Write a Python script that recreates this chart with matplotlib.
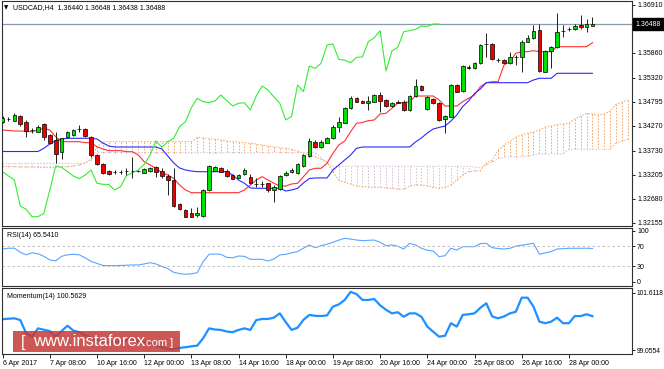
import matplotlib
matplotlib.use("Agg")
import matplotlib.pyplot as plt
import matplotlib.transforms as mtransforms
from matplotlib.patches import Rectangle
import numpy as np

plt.rcParams['font.family'] = ['Liberation Sans', 'DejaVu Sans']

# USDCAD H4 candles, 6 Apr 2017 00:00 .. 28 Apr 2017 16:00
opens = [1.34353, 1.34412, 1.34382, 1.34484, 1.34360, 1.34175, 1.34142, 1.34303, 1.34070, 1.33961,
         1.33706, 1.34020, 1.34070, 1.34194, 1.34194, 1.34033, 1.33634, 1.33438, 1.33292, 1.33253,
         1.33257, 1.33281, 1.33285, 1.33285, 1.33248, 1.33292, 1.33372, 1.33285, 1.33176, 1.33089,
         1.32566, 1.32435, 1.32363, 1.32326, 1.32304, 1.32871, 1.33292, 1.33344, 1.33292, 1.33198,
         1.33139, 1.33220, 1.33161, 1.32991, 1.32995, 1.33017, 1.32871, 1.32893, 1.33198, 1.33257,
         1.33235, 1.33394, 1.33612, 1.33924, 1.33815, 1.33902, 1.33998, 1.34251, 1.34338, 1.34652,
         1.34870, 1.34811, 1.34774, 1.34796, 1.34942, 1.34833, 1.34702, 1.34796, 1.34796, 1.34615,
         1.34920, 1.35138, 1.34637, 1.34848, 1.34761, 1.34412, 1.34469, 1.35160, 1.35036, 1.35559,
         1.35524, 1.35640, 1.36043, 1.36054, 1.35705, 1.35705, 1.35633, 1.35766, 1.35777, 1.36104,
         1.36178, 1.36359, 1.35450, 1.35901, 1.35982, 1.36337, 1.36370, 1.36374, 1.36457, 1.36431,
         1.36440]
highs = [1.34484, 1.34462, 1.34550, 1.34506, 1.34397, 1.34229, 1.34288, 1.34332, 1.34092, 1.34135,
         1.34005, 1.34157, 1.34201, 1.34288, 1.34223, 1.34048, 1.33645, 1.33460, 1.33307, 1.33307,
         1.33307, 1.33351, 1.33597, 1.33307, 1.33351, 1.33372, 1.33394, 1.33351, 1.33220, 1.33351,
         1.32588, 1.32457, 1.32485, 1.32507, 1.32893, 1.33416, 1.33394, 1.33372, 1.33322, 1.33220,
         1.33220, 1.33351, 1.33220, 1.33133, 1.33067, 1.33030, 1.32969, 1.33198, 1.33285, 1.33340,
         1.33460, 1.33656, 1.34011, 1.33950, 1.33961, 1.34016, 1.34277, 1.34462, 1.34691, 1.34920,
         1.34898, 1.34833, 1.34920, 1.34964, 1.35014, 1.34855, 1.34779, 1.34822, 1.34822, 1.34942,
         1.35284, 1.35160, 1.34920, 1.34877, 1.34789, 1.34495, 1.35182, 1.35182, 1.35596, 1.35596,
         1.35661, 1.36054, 1.36287, 1.36076, 1.35738, 1.35727, 1.35886, 1.35814, 1.36141, 1.36250,
         1.36468, 1.36490, 1.35923, 1.36010, 1.36730, 1.36468, 1.36424, 1.36490, 1.36686, 1.36592,
         1.36648]
lows = [1.34332, 1.34375, 1.34375, 1.34266, 1.34026, 1.34107, 1.34135, 1.33961, 1.33874, 1.33460,
        1.33547, 1.34005, 1.34048, 1.34135, 1.34026, 1.33590, 1.33416, 1.33220, 1.33198, 1.33220,
        1.33220, 1.33198, 1.33133, 1.33263, 1.33231, 1.33274, 1.33161, 1.33133, 1.32762, 1.32500,
        1.32435, 1.32282, 1.32272, 1.32289, 1.32282, 1.32849, 1.33285, 1.33263, 1.33154, 1.33100,
        1.33122, 1.33198, 1.33002, 1.32936, 1.32936, 1.32834, 1.32616, 1.32871, 1.33176, 1.33242,
        1.33220, 1.33372, 1.33590, 1.33776, 1.33787, 1.33885, 1.33983, 1.34142, 1.34321, 1.34637,
        1.34779, 1.34757, 1.34615, 1.34779, 1.34578, 1.34680, 1.34680, 1.34757, 1.34593, 1.34593,
        1.34898, 1.35029, 1.34615, 1.34746, 1.34375, 1.34114, 1.34452, 1.34997, 1.35018, 1.35509,
        1.35498, 1.35618, 1.35777, 1.35705, 1.35672, 1.35629, 1.35618, 1.35596, 1.35450, 1.36087,
        1.36163, 1.35443, 1.35433, 1.35531, 1.35967, 1.36213, 1.36337, 1.36359, 1.36374, 1.36322,
        1.36438]
closes = [1.34441, 1.34419, 1.34506, 1.34310, 1.34164, 1.34179, 1.34251, 1.34033, 1.33896, 1.33656,
          1.33998, 1.34129, 1.34179, 1.34201, 1.34048, 1.33634, 1.33438, 1.33248, 1.33220, 1.33257,
          1.33255, 1.33285, 1.33281, 1.33284, 1.33322, 1.33344, 1.33270, 1.33176, 1.33089, 1.32522,
          1.32450, 1.32289, 1.32289, 1.32363, 1.32871, 1.33394, 1.33366, 1.33270, 1.33176, 1.33117,
          1.33198, 1.33307, 1.33017, 1.32995, 1.32991, 1.32871, 1.32943, 1.33183, 1.33248, 1.33307,
          1.33431, 1.33634, 1.33939, 1.33802, 1.33924, 1.33998, 1.34251, 1.34360, 1.34665, 1.34870,
          1.34796, 1.34774, 1.34811, 1.34942, 1.34818, 1.34702, 1.34761, 1.34774, 1.34615, 1.34920,
          1.35138, 1.35051, 1.34898, 1.34761, 1.34397, 1.34478, 1.35160, 1.35014, 1.35574, 1.35524,
          1.35633, 1.36032, 1.36054, 1.35720, 1.35701, 1.35646, 1.35764, 1.35770, 1.36104, 1.36191,
          1.36344, 1.35465, 1.35901, 1.35982, 1.36322, 1.36344, 1.36374, 1.36446, 1.36435, 1.36490,
          1.36488]

# Ichimoku lines
tenkan = [1.34179, 1.34168, 1.34157, 1.34157, 1.34146, 1.34142, 1.34179, 1.34216, 1.34179, 1.34033,
          1.33924, 1.33924, 1.33924, 1.33924, 1.33902, 1.33902, 1.33815, 1.33765, 1.33728, 1.33728,
          1.33728, 1.33706, 1.33706, 1.33634, 1.33488, 1.33416, 1.33344, 1.33248, 1.33198, 1.33126,
          1.32980, 1.32871, 1.32812, 1.32812, 1.32812, 1.32812, 1.32812, 1.32812, 1.32812, 1.32812,
          1.32812, 1.32871, 1.32980, 1.33089, 1.33161, 1.33089, 1.33017, 1.32958, 1.32958, 1.33002,
          1.33017, 1.33161, 1.33307, 1.33344, 1.33344, 1.33453, 1.33671, 1.33852, 1.33939, 1.34142,
          1.34325, 1.34343, 1.34382, 1.34397, 1.34528, 1.34543, 1.34652, 1.34768, 1.34774, 1.34796,
          1.34920, 1.34920, 1.34920, 1.34920, 1.34833, 1.34702, 1.34702, 1.34702, 1.34796, 1.34870,
          1.34942, 1.35123, 1.35210, 1.35232, 1.35232, 1.35596, 1.35668, 1.35851, 1.35886, 1.35886,
          1.35908, 1.35886, 1.35886, 1.35886, 1.35995, 1.35995, 1.35995, 1.35995, 1.35995, 1.35995,
          1.36082]
kijun = [1.33710, 1.33710, 1.33710, 1.33710, 1.33710, 1.33710, 1.33710, 1.33780, 1.33874, 1.33950,
         1.33983, 1.33998, 1.33998, 1.33998, 1.33998, 1.33998, 1.33983, 1.33896, 1.33830, 1.33808,
         1.33808, 1.33808, 1.33808, 1.33808, 1.33808, 1.33808, 1.33808, 1.33765, 1.33612, 1.33460,
         1.33351, 1.33307, 1.33285, 1.33270, 1.33270, 1.33270, 1.33270, 1.33270, 1.33270, 1.33198,
         1.33089, 1.33017, 1.32915, 1.32908, 1.32908, 1.32908, 1.32908, 1.32908, 1.32849, 1.32871,
         1.32908, 1.33024, 1.33122, 1.33133, 1.33133, 1.33133, 1.33307, 1.33416, 1.33525, 1.33634,
         1.33780, 1.33808, 1.33808, 1.33808, 1.33808, 1.33808, 1.33808, 1.33808, 1.33808, 1.33808,
         1.33917, 1.34005, 1.34114, 1.34201, 1.34234, 1.34266, 1.34375, 1.34506, 1.34691, 1.34811,
         1.34975, 1.35073, 1.35210, 1.35210, 1.35210, 1.35210, 1.35210, 1.35210, 1.35210, 1.35210,
         1.35269, 1.35306, 1.35306, 1.35306, 1.35415, 1.35415, 1.35415, 1.35415, 1.35415, 1.35415,
         1.35415]
span_a = [1.33383, 1.33383, 1.33379, 1.33372, 1.33372, 1.33372, 1.33366, 1.33366, 1.33366, 1.33366,
          1.33372, 1.33379, 1.33394, 1.33416, 1.33460, 1.33547, 1.33808, 1.33917, 1.33924, 1.33924,
          1.33924, 1.33924, 1.33924, 1.33924, 1.33924, 1.33924, 1.33924, 1.33924, 1.33924, 1.33924,
          1.33924, 1.33924, 1.33924, 1.34020, 1.34005, 1.33989, 1.33976, 1.33961, 1.33939, 1.33924,
          1.33917, 1.33906, 1.33889, 1.33874, 1.33852, 1.33830, 1.33808, 1.33793, 1.33780, 1.33754,
          1.33721, 1.33671, 1.33634, 1.33590, 1.33536, 1.33488, 1.33263, 1.33089, 1.33035, 1.33002,
          1.32958, 1.32947, 1.32936, 1.32930, 1.32930, 1.32915, 1.32904, 1.32893, 1.32886, 1.32958,
          1.32980, 1.32980, 1.32958, 1.32926, 1.32908, 1.32926, 1.32980, 1.33089, 1.33198, 1.33270,
          1.33285, 1.33292, 1.33460, 1.33525, 1.33732, 1.33852, 1.33924, 1.34026, 1.34070, 1.34107,
          1.34135, 1.34179, 1.34244, 1.34266, 1.34299, 1.34310, 1.34325, 1.34419, 1.34484, 1.34543,
          1.34528, 1.34506, 1.34528, 1.34593, 1.34746, 1.34789, 1.34833]
span_b = [1.33453, 1.33453, 1.33453, 1.33453, 1.33453, 1.33453, 1.33453, 1.33453, 1.33453, 1.33453,
          1.33453, 1.33453, 1.33453, 1.33453, 1.33453, 1.33525, 1.33684, 1.33684, 1.33684, 1.33684,
          1.33684, 1.33684, 1.33684, 1.33684, 1.33684, 1.33684, 1.33684, 1.33684, 1.33684, 1.33684,
          1.33684, 1.33684, 1.33684, 1.33684, 1.33684, 1.33684, 1.33684, 1.33684, 1.33684, 1.33684,
          1.33684, 1.33684, 1.33684, 1.33684, 1.33684, 1.33684, 1.33684, 1.33684, 1.33684, 1.33684,
          1.33684, 1.33684, 1.33684, 1.33684, 1.33569, 1.33460, 1.33388, 1.33388, 1.33388, 1.33388,
          1.33388, 1.33388, 1.33388, 1.33388, 1.33388, 1.33388, 1.33388, 1.33388, 1.33388, 1.33388,
          1.33388, 1.33388, 1.33388, 1.33388, 1.33388, 1.33388, 1.33388, 1.33388, 1.33388, 1.33388,
          1.33372, 1.33351, 1.33416, 1.33481, 1.33547, 1.33584, 1.33597, 1.33597, 1.33597, 1.33612,
          1.33634, 1.33656, 1.33656, 1.33656, 1.33656, 1.33656, 1.33758, 1.33758, 1.33758, 1.33758,
          1.33758, 1.33758, 1.33758, 1.33758, 1.33902, 1.33939, 1.33976]

rsi = [64.5, 66.0, 66.0, 58.0, 53.0, 57.0, 55.0, 50.0, 43.0, 41.0,
       50.0, 53.0, 54.0, 53.0, 47.0, 40.0, 36.0, 32.0, 31.6, 31.6,
       32.0, 32.5, 33.0, 33.0, 35.0, 37.5, 35.0, 30.0, 26.0, 18.5,
       16.0, 14.6, 15.5, 17.8, 39.4, 54.0, 54.5, 54.0, 48.0, 47.0,
       50.7, 50.0, 44.2, 44.2, 44.2, 40.8, 45.0, 52.7, 54.0, 57.0,
       59.2, 66.0, 72.4, 67.0, 71.0, 74.0, 77.7, 82.0, 85.6, 84.0,
       82.2, 80.9, 81.5, 82.2, 77.7, 71.0, 72.4, 70.0, 64.5, 75.7,
       72.4, 65.9, 62.0, 60.6, 49.3, 51.3, 65.9, 62.5, 69.0, 69.0,
       69.0, 75.0, 75.7, 67.0, 65.5, 64.5, 65.9, 70.0, 72.0, 73.7,
       75.7, 54.0, 57.0, 59.2, 64.5, 65.0, 65.9, 65.9, 65.9, 66.0,
       65.541]
momentum = [100.43, 100.45, 100.47, 100.39, 99.80, 99.65, 100.02, 99.96, 99.90, 99.65,
            99.90, 100.14, 99.92, 99.85, 99.72, 99.60, 99.50, 99.45, 99.40, 99.42,
            99.43, 99.50, 99.58, 99.45, 99.40, 99.32, 99.25, 99.17, 99.10, 99.09,
            99.15, 99.18, 99.22, 99.25, 99.58, 100.02, 99.97, 99.95, 99.88, 99.85,
            99.95, 100.02, 99.95, 100.39, 100.44, 100.44, 100.50, 100.69, 100.30, 99.95,
            100.05, 100.40, 100.62, 100.58, 100.57, 100.60, 100.99, 101.09, 101.29, 101.65,
            101.55, 101.29, 101.29, 101.33, 101.05, 100.85, 100.69, 100.74, 100.54, 100.69,
            100.69, 100.54, 100.10, 99.87, 99.65, 99.69, 100.25, 100.10, 100.62, 100.65,
            100.69, 100.94, 101.14, 100.55, 100.47, 100.55, 100.69, 100.76, 101.39, 101.39,
            100.99, 100.32, 100.25, 100.32, 100.50, 100.25, 100.25, 100.57, 100.57, 100.65,
            100.5629]

price_ticks = [1.36910, 1.36385, 1.35860, 1.35320, 1.34795, 1.34270, 1.33730, 1.33205, 1.32680, 1.32155]
time_labels = ["6 Apr 2017", "7 Apr 08:00", "10 Apr 16:00", "12 Apr 00:00", "13 Apr 08:00",
               "14 Apr 16:00", "18 Apr 00:00", "19 Apr 08:00", "20 Apr 16:00", "24 Apr 00:00",
               "25 Apr 08:00", "26 Apr 16:00", "28 Apr 00:00"]
bid = 1.36488
title = "USDCAD,H4  1.36440 1.36648 1.36438 1.36488"

W, H = 664, 369
fig = plt.figure(figsize=(W / 100, H / 100), dpi=100, facecolor='white')


def px_axes(left, top, right, bottom):
    return fig.add_axes([left / W, 1 - bottom / H, (right - left) / W, (bottom - top) / H])


ax = px_axes(2, 1, 632, 226)
ax_rsi = px_axes(2, 228, 632, 286)
ax_mom = px_axes(2, 288, 632, 353.5)

o = np.array(opens)
c = np.array(closes)
x = np.arange(len(c))
xc = np.arange(len(span_a))
sa = np.array(span_a)
sb = np.array(span_b)

# cloud: dotted histogram between the two spans
dot = (0, (1.6, 1.6))
cloud_cols = np.where(sa >= sb, '#f4a460', '#d8bfd8')
ax.vlines(xc, sa, sb, colors=cloud_cols, linestyles=[dot], lw=0.7, zorder=1)
ax.plot(xc, sa, color='#f4a460', ls=dot, lw=0.7, zorder=1)
ax.plot(xc, sb, color='#d8bfd8', ls=dot, lw=0.7, zorder=1)

ax.axhline(bid, color='#8c9bab', lw=0.9, zorder=1.5)

ax.plot(x, tenkan, color='#ff3030', lw=0.8, zorder=2)
ax.plot(x, kijun, color='#2a2aff', lw=0.8, zorder=2)
ax.plot(x[:-26], c[26:], color='#33ee33', lw=0.8, zorder=2)

# candles
ax.vlines(x, lows, highs, color='#202020', lw=0.7, zorder=3)
body_cols = np.where(c >= o, '#00e000', '#ee0000')
ax.bar(x, c - o, bottom=o, width=0.62, color=body_cols, edgecolor='black', lw=0.5, zorder=4)

xlim = (-0.1, 106.7)
ax.set_xlim(*xlim)
ax.set_ylim(1.32086, 1.36991)
ax.set_xticks([])
ax.yaxis.tick_right()
ax.set_yticks(price_ticks)
ax.set_yticklabels(['%.5f' % p for p in price_ticks])

tr = mtransforms.blended_transform_factory(ax.transAxes, ax.transData)
ax.text(1.006, bid, '1.36488', transform=tr, ha='left', va='center', fontsize=5, color='white',
        bbox=dict(boxstyle='square,pad=0.35', fc='black', ec='black'), clip_on=False, zorder=10)

# RSI
ax_rsi.plot(x, rsi, color='#5aa5ff', lw=0.8)
for lvl in (70, 30):
    ax_rsi.axhline(lvl, color='#b8b8b8', ls=(0, (3, 3)), lw=0.6)
ax_rsi.set_xlim(*xlim)
ax_rsi.set_ylim(-8.5, 105.9)
ax_rsi.set_xticks([])
ax_rsi.yaxis.tick_right()
ax_rsi.set_yticks([0, 30, 70, 100])
ax_rsi.text(5 / 630, 0.93, 'RSI(14) 65.5410', transform=ax_rsi.transAxes, fontsize=5, va='top')

# Momentum
ax_mom.plot(x, momentum, color='#1e90ff', lw=1.6)
ax_mom.set_xlim(*xlim)
ax_mom.set_ylim(98.8993, 101.8215)
ax_mom.yaxis.tick_right()
ax_mom.set_yticks([99.0554, 101.6118])
ax_mom.set_yticklabels(['99.0554', '101.6118'])
ax_mom.set_xticks(np.arange(0, 97, 8))
ax_mom.set_xticklabels(time_labels, ha='left')
ax_mom.text(5 / 630, 0.93, 'Momentum(14) 100.5629', transform=ax_mom.transAxes, fontsize=5, va='top')

for a in (ax, ax_rsi, ax_mom):
    a.set_facecolor('white')
    for s in a.spines.values():
        s.set_color('#303030')
        s.set_linewidth(0.8)
    a.tick_params(axis='y', length=2.5, width=0.6, labelsize=5, pad=1.2)
    a.tick_params(axis='x', length=3, width=0.6, labelsize=5, pad=1.5)
ax_mom.tick_params(axis='y', labelsize=4.8, pad=0.8)

# header
fig.text(4 / W, 1 - 7.5 / H, '\u25bc', fontsize=4, va='center', family='DejaVu Sans')
fig.text(13 / W, 1 - 7.5 / H, title, fontsize=5, va='center')

# watermark
fig.add_artist(Rectangle((13 / W, 1 - 352 / H), 167 / W, 21 / H, transform=fig.transFigure,
                         fc='#c43a36', ec='none', alpha=0.85, zorder=5))
fig.text(21 / W, 1 - 342 / H, '[', fontsize=12, color='white', va='center', zorder=6)
fig.text(33 / W, 1 - 342 / H, 'www.instaforex', fontsize=12, color='white', va='center', zorder=6)
fig.text(143 / W, 1 - 343 / H, '.com', fontsize=8, color='white', va='center', zorder=6)
fig.text(170 / W, 1 - 343 / H, ']', fontsize=8, color='white', va='center', zorder=6)

fig.savefig('out.png', dpi=100)
